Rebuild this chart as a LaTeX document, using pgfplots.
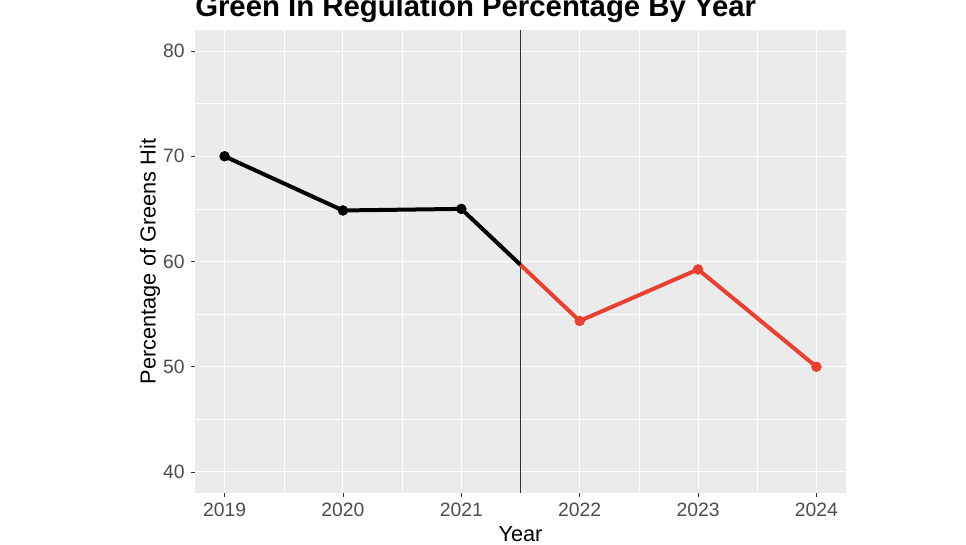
\documentclass[border=0pt]{standalone}
\usepackage{pgfplots}
\pgfplotsset{compat=1.18}
\usepackage{fontspec}
\setmainfont{Liberation Sans}
\definecolor{panel}{HTML}{EBEBEB}
\definecolor{ticktxt}{HTML}{4D4D4D}
\definecolor{tickln}{HTML}{333333}
\definecolor{ggred}{HTML}{E84132}
\begin{document}
\begin{tikzpicture}
\begin{axis}[
  name=ax,
  at={(0,0)}, anchor=south west,
  scale only axis,
  width=488.25pt, height=347.25pt,
  xmin=2018.75, xmax=2024.25,
  ymin=38, ymax=82,
  xtick={2019,2020,2021,2022,2023,2024},
  ytick={40,50,60,70,80},
  minor xtick={2019.5,2020.5,2021.5,2022.5,2023.5},
  minor ytick={45,55,65,75},
  grid=both,
  major grid style={white, line width=0.8pt},
  minor grid style={white, line width=0.4pt},
  axis background/.style={fill=panel},
  axis line style={draw=none},
  tick align=outside,
  tick pos=left,
  major tick length=3.2pt,
  minor tick length=0pt,
  tick style={tickln, line width=0.6pt},
  /pgf/number format/assume math mode=true,
  /pgf/number format/1000 sep={},
  ticklabel style={font=\fontsize{14.5}{16}\selectfont, text=ticktxt},
  xticklabel style={yshift=-1pt},
  yticklabel style={xshift=-1pt},
  xlabel={Year},
  ylabel={Percentage of Greens Hit},
  label style={font=\fontsize{16.3}{18}\selectfont, text=black},
  xlabel style={at={(axis description cs:0.5,-0.1058)}, anchor=base},
  ylabel style={at={(axis description cs:-0.069,0.5)}, anchor=center},
  clip=false,
]
\addplot[tickln, line width=0.7pt, forget plot] coordinates {(2021.5,38) (2021.5,82)};
\addplot[black, line width=3pt, no marks, line join=round] coordinates {
  (2019,70.0) (2020,64.85) (2021,65.0) (2021.5,59.68)
};
\addplot[ggred, line width=3pt, no marks, line join=round] coordinates {
  (2021.5,59.68) (2022,54.35) (2023,59.25) (2024,50.0)
};
\addplot[only marks, mark=*, mark size=3.7pt, black] coordinates {
  (2019,70.0) (2020,64.85) (2021,65.0)
};
\addplot[only marks, mark=*, mark size=3.7pt, ggred, mark options={draw=ggred, fill=ggred}] coordinates {
  (2022,54.35) (2023,59.25) (2024,50.0)
};
\end{axis}
\node[anchor=base west, inner sep=0pt, font=\bfseries\fontsize{22}{24}\selectfont] at ([yshift=10.1pt]ax.north west) {Green In Regulation Percentage By Year};
\pgfresetboundingbox
\useasboundingbox (-146.25pt,-38.25pt) rectangle (578.25pt,369.75pt);
\end{tikzpicture}
\end{document}
